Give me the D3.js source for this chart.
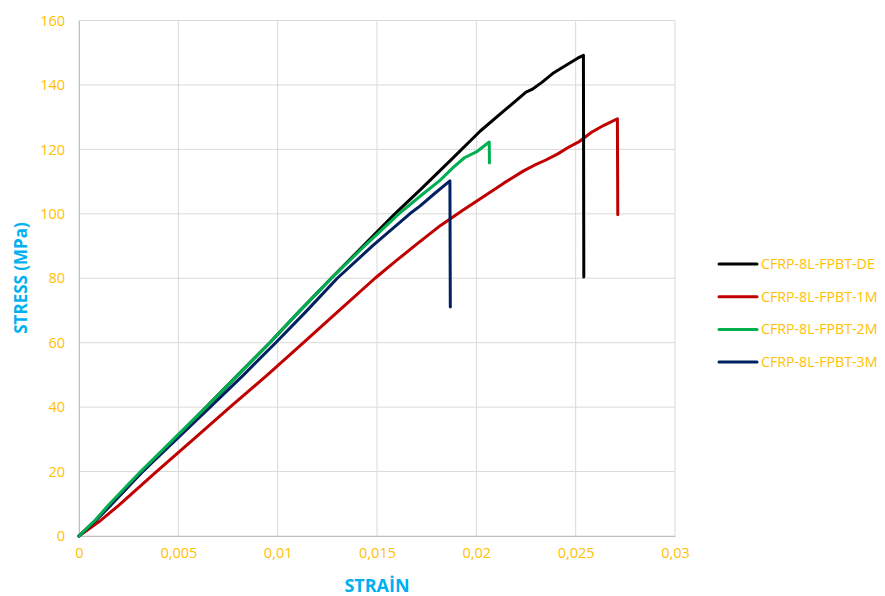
<!DOCTYPE html>
<html>
<head>
<meta charset="utf-8">
<script src="https://cdn.jsdelivr.net/npm/d3@7"></script>
<style>
  html, body { margin: 0; padding: 0; background: #fff; }
  svg { display: block; font-family: "Open Sans", "Noto Sans", sans-serif; }
</style>
</head>
<body>
<svg id="chart" width="885" height="596"></svg>
<script>
// Series names (legend order)
const seriesNames = ["CFRP-8L-FPBT-DE", "CFRP-8L-FPBT-1M", "CFRP-8L-FPBT-2M", "CFRP-8L-FPBT-3M"];
const seriesColors = ["#000000", "#C00000", "#00B050", "#002060"];

// Stress–strain readings for each specimen (last point = failure drop)
const strainDE = [0, 0.0008, 0.0016, 0.0032, 0.0048, 0.0064, 0.0080, 0.0096, 0.0111, 0.0127, 0.0143, 0.0159, 0.0172, 0.0187, 0.0202, 0.0214, 0.0225, 0.0228, 0.0233, 0.0239, 0.0246, 0.0251, 0.02539, 0.02541];
const stressDE = [0, 4.6, 9.6, 20, 30, 40, 50, 60, 69.8, 80, 90, 100, 107.6, 116.6, 125.7, 132, 137.8, 138.6, 140.8, 143.8, 146.4, 148.3, 149.2, 80.4];

const strain1M = [0, 0.0010, 0.0020, 0.0039, 0.0058, 0.0076, 0.0095, 0.0113, 0.0131, 0.0149, 0.0160, 0.0170, 0.0182, 0.0193, 0.0202, 0.0214, 0.0224, 0.0229, 0.0235, 0.0241, 0.0246, 0.0252, 0.0258, 0.0264, 0.0271, 0.02712];
const stress1M = [0, 4.4, 9.5, 20, 30.2, 40, 50.1, 60, 70, 80, 85.6, 90.6, 96.4, 101, 104.7, 109.6, 113.4, 115, 116.7, 118.6, 120.5, 122.5, 125.3, 127.4, 129.5, 99.7];

const strain2M = [0, 0.0008, 0.0015, 0.0031, 0.0048, 0.0064, 0.0080, 0.0096, 0.0111, 0.0127, 0.0144, 0.0161, 0.0172, 0.01817, 0.01884, 0.01940, 0.0200, 0.02065, 0.02066];
const stress2M = [0, 4.8, 9.7, 20, 30.3, 40, 50, 60, 69.8, 80, 90.2, 100, 105.6, 110.4, 114.4, 117.4, 119.2, 122.3, 115.8];

const strain3M = [0, 0.0008, 0.0016, 0.0032, 0.0049, 0.0066, 0.0083, 0.0099, 0.0114, 0.0130, 0.0148, 0.01665, 0.01716, 0.0179, 0.01867, 0.01869];
const stress3M = [0, 4.7, 9.6, 20, 30, 40, 50.1, 60, 69.5, 80, 90.2, 100, 102.4, 106.3, 110.2, 71.1];

const seriesStrain = [strainDE, strain1M, strain2M, strain3M];
const seriesStress = [stressDE, stress1M, stress2M, stress3M];

// Axis ticks
const xTicks = [0, 0.005, 0.01, 0.015, 0.02, 0.025, 0.03];
const xTickLabels = ["0", "0,005", "0,01", "0,015", "0,02", "0,025", "0,03"];
const yTicks = [0, 20, 40, 60, 80, 100, 120, 140, 160];

const svg = d3.select("#chart");
const plot = { left: 79, right: 675, top: 20.5, bottom: 536 };

const x = d3.scaleLinear().domain([0, 0.03]).range([plot.left, plot.right]);
const y = d3.scaleLinear().domain([0, 160]).range([plot.bottom, plot.top]);

const tickColor = "#FFC000";
const titleColor = "#00B0F0";
const gridColor = "#D9D9D9";

// Gridlines
const grid = svg.append("g");
grid.selectAll("line.h").data(yTicks).join("line")
  .attr("x1", plot.left).attr("x2", plot.right)
  .attr("y1", d => y(d)).attr("y2", d => y(d))
  .attr("stroke", gridColor).attr("stroke-width", 1);
grid.selectAll("line.v").data(xTicks).join("line")
  .attr("y1", plot.top).attr("y2", plot.bottom)
  .attr("x1", d => x(d)).attr("x2", d => x(d))
  .attr("stroke", gridColor).attr("stroke-width", 1);

// Axes
const xAxis = svg.append("g")
  .attr("transform", `translate(0,${plot.bottom})`)
  .call(d3.axisBottom(x).tickValues(xTicks).tickSize(0).tickPadding(12)
    .tickFormat((d, i) => xTickLabels[i]));
const yAxis = svg.append("g")
  .attr("transform", `translate(${plot.left},0)`)
  .call(d3.axisLeft(y).tickValues(yTicks).tickSize(0).tickPadding(14));
[xAxis, yAxis].forEach(a => {
  a.select(".domain").attr("stroke", "#BFBFBF").attr("stroke-width", 1);
  a.selectAll("text").attr("fill", tickColor).attr("font-size", 14.5)
    .attr("font-family", "'Open Sans', 'Noto Sans', sans-serif");
});

// Axis titles
svg.append("text")
  .attr("x", 377).attr("y", 592)
  .attr("text-anchor", "middle")
  .attr("fill", titleColor).attr("font-weight", "bold").attr("font-size", 18)
  .text("STRAİN");
svg.append("text")
  .attr("transform", `translate(27,278) rotate(-90)`)
  .attr("text-anchor", "middle")
  .attr("fill", titleColor).attr("font-weight", "bold").attr("font-size", 17)
  .text("STRESS (MPa)");

// Curves, red underneath, green on top
const line = d3.line().x(d => x(d[0])).y(d => y(d[1]));
const drawOrder = [1, 0, 3, 2];
drawOrder.forEach(i => {
  const pts = seriesStrain[i].map((s, k) => [s, seriesStress[i][k]]);
  svg.append("path")
    .datum(pts)
    .attr("d", line)
    .attr("fill", "none")
    .attr("stroke", seriesColors[i])
    .attr("stroke-width", 3)
    .attr("stroke-linejoin", "round")
    .attr("stroke-linecap", "round");
});

// Legend
const legend = svg.append("g").attr("transform", "translate(719,264)");
seriesNames.forEach((name, i) => {
  const g = legend.append("g").attr("transform", `translate(0,${i * 32.7})`);
  g.append("line").attr("x1", 0).attr("x2", 38).attr("y1", 0).attr("y2", 0)
    .attr("stroke", seriesColors[i]).attr("stroke-width", 3).attr("stroke-linecap", "round");
  g.append("text").attr("x", 42).attr("y", 0).attr("dy", "0.35em")
    .attr("fill", tickColor).attr("font-size", 14.2)
    .text(name);
});
</script>
</body>
</html>
